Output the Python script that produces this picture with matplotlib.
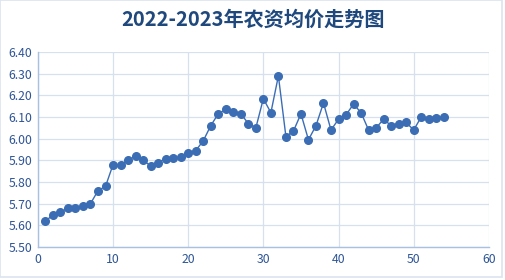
import matplotlib
matplotlib.use("Agg")
from matplotlib import pyplot as plt
import numpy as np

plt.rcParams['font.family'] = ['Noto Sans CJK SC', 'DejaVu Sans']

# weekly index and average price
weeks = list(range(1, 55))
prices = [5.62, 5.647, 5.66, 5.68, 5.68, 5.69, 5.70, 5.76, 5.78, 5.88,
          5.88, 5.90, 5.92, 5.90, 5.875, 5.89, 5.908, 5.91, 5.915, 5.935,
          5.945, 5.99, 6.06, 6.115, 6.135, 6.125, 6.115, 6.07, 6.05, 6.185,
          6.12, 6.29, 6.01, 6.035, 6.115, 5.995, 6.06, 6.165, 6.04, 6.09,
          6.11, 6.16, 6.12, 6.04, 6.05, 6.09, 6.06, 6.07, 6.075, 6.04,
          6.10, 6.09, 6.095, 6.10]

title = "2022-2023年农资均价走势图"
x_ticks = [0, 10, 20, 30, 40, 50, 60]
y_ticks = np.arange(5.5, 6.41, 0.1)

line_color = "#3B6DB5"
grid_color = "#D6E0EE"
text_color = "#2E5597"

fig = plt.figure(figsize=(5.05, 2.80), dpi=100)
ax = fig.add_axes([0.075, 0.118, 0.893, 0.696])

ax.plot(weeks, prices, color=line_color, linewidth=1.0, marker="o",
        markersize=5.5, markerfacecolor=line_color, markeredgecolor=line_color)

ax.set_xlim(0, 60)
ax.set_ylim(5.5, 6.4)
ax.set_xticks(x_ticks)
ax.set_yticks(y_ticks)
ax.set_yticklabels([f"{v:.2f}" for v in y_ticks])
ax.tick_params(axis="both", length=0, labelsize=8.8, colors=text_color, pad=4)
ax.grid(True, color=grid_color, linewidth=0.9)
ax.set_axisbelow(True)
for side in ["top", "right"]:
    ax.spines[side].set_visible(False)
for side in ["left", "bottom"]:
    ax.spines[side].set_color("#A9C0E0")
    ax.spines[side].set_linewidth(1.0)

fig.text(0.502, 0.93, title, ha="center", va="center", fontsize=14.5,
         fontweight="bold", color="#1F497D")

# light frame around the chart area
fig.patches.append(plt.Rectangle((0.0, 0.01), 0.995, 0.99, transform=fig.transFigure,
                                 fill=False, edgecolor="#DCE4F0", linewidth=1.2))

fig.savefig("out.png", dpi=100)
